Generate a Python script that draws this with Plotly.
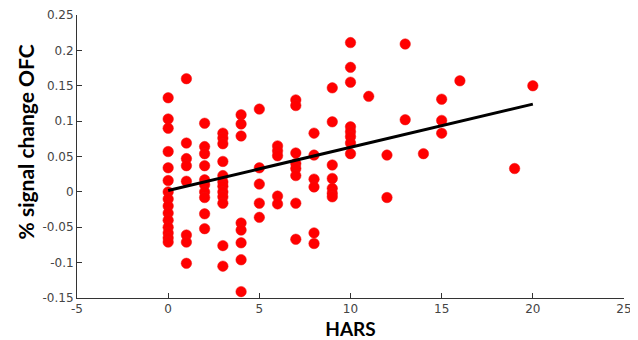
import plotly.graph_objects as go

# HARS scores and % signal change OFC
hars = (
    [0] * 15
    + [1] * 8
    + [2] * 10
    + [3] * 12
    + [4] * 8
    + [5] * 5
    + [6] * 5
    + [7] * 8
    + [8] * 6
    + [9] * 7
    + [10] * 8
    + [11]
    + [12] * 2
    + [13] * 2
    + [14]
    + [15] * 3
    + [16]
    + [19]
    + [20]
)
signal = (
    [0.133, 0.103, 0.090, 0.057, 0.034, 0.016, 0.0, -0.01, -0.02, -0.03, -0.04, -0.05, -0.058, -0.065, -0.071]
    + [0.160, 0.069, 0.047, 0.037, 0.015, -0.061, -0.071, -0.101]
    + [0.097, 0.064, 0.054, 0.037, 0.017, 0.010, 0.0, -0.008, -0.031, -0.052]
    + [0.083, 0.076, 0.068, 0.043, 0.023, 0.014, 0.008, 0.0, -0.007, -0.016, -0.076, -0.105]
    + [0.109, 0.096, 0.079, -0.044, -0.054, -0.072, -0.096, -0.141]
    + [0.117, 0.034, 0.011, -0.016, -0.036]
    + [0.065, 0.058, 0.051, -0.006, -0.017]
    + [0.130, 0.122, 0.055, 0.040, 0.033, 0.023, -0.016, -0.067]
    + [0.083, 0.052, 0.018, 0.007, -0.058, -0.073]
    + [0.147, 0.099, 0.038, 0.019, 0.005, -0.002, -0.007]
    + [0.211, 0.176, 0.155, 0.092, 0.085, 0.078, 0.069, 0.054]
    + [0.135]
    + [0.052, -0.008]
    + [0.209, 0.102]
    + [0.054]
    + [0.131, 0.101, 0.083]
    + [0.157]
    + [0.033]
    + [0.150]
)

# regression line end points
fit_x = [0, 20]
fit_y = [0.002, 0.124]

x_tickvals = [-5, 0, 5, 10, 15, 20, 25]
x_ticktext = ["-5", "0", "5", "10", "15", "20", "25"]
y_tickvals = [-0.15, -0.1, -0.05, 0, 0.05, 0.1, 0.15, 0.2, 0.25]
y_ticktext = ["-0.15", "-0.1", "-0.05", "0", "0.05", "0.1", "0.15", "0.2", "0.25"]

x_title = "HARS"
y_title = "% signal change OFC"

fig = go.Figure()
fig.add_trace(go.Scatter(
    x=hars, y=signal, mode="markers",
    marker=dict(color="#ff0000", size=10.5, line=dict(color="#ee1111", width=0.5)),
    showlegend=False,
))
fig.add_trace(go.Scatter(
    x=fit_x, y=fit_y, mode="lines",
    line=dict(color="black", width=3),
    showlegend=False,
))

# the page body has an 8px default margin, so the figure is 8px smaller
tick_font = dict(family="DejaVu Sans", size=12, color="#444444")
fig.update_layout(
    width=630, height=332,
    margin=dict(l=69, r=14, t=7, b=42),
    paper_bgcolor="white", plot_bgcolor="white",
    xaxis=dict(
        range=[-5, 25], tickvals=x_tickvals, ticktext=x_ticktext,
        ticks="inside", ticklen=5, tickcolor="#333333", tickwidth=1,
        showline=True, linecolor="#333333", linewidth=1, mirror=False,
        showgrid=False, zeroline=False, tickfont=tick_font,
        ticklabelstandoff=0, automargin=False,
        title=dict(text="<b>" + x_title + "</b>", font=dict(family="Lato", size=19, color="black"), standoff=15),
    ),
    yaxis=dict(
        range=[-0.15, 0.25], tickvals=y_tickvals, ticktext=y_ticktext,
        ticks="inside", ticklen=5, tickcolor="#333333", tickwidth=1,
        showline=True, linecolor="#333333", linewidth=1, mirror=False,
        showgrid=False, zeroline=False, tickfont=tick_font,
        automargin=False,
    ),
    annotations=[dict(
        text="<b>" + y_title + "</b>", textangle=-90,
        xref="paper", yref="paper", x=-0.095, y=0.55,
        xanchor="center", yanchor="middle", showarrow=False,
        font=dict(family="Lato", size=21, color="black"),
    )],
)

fig.write_html("out.html")
